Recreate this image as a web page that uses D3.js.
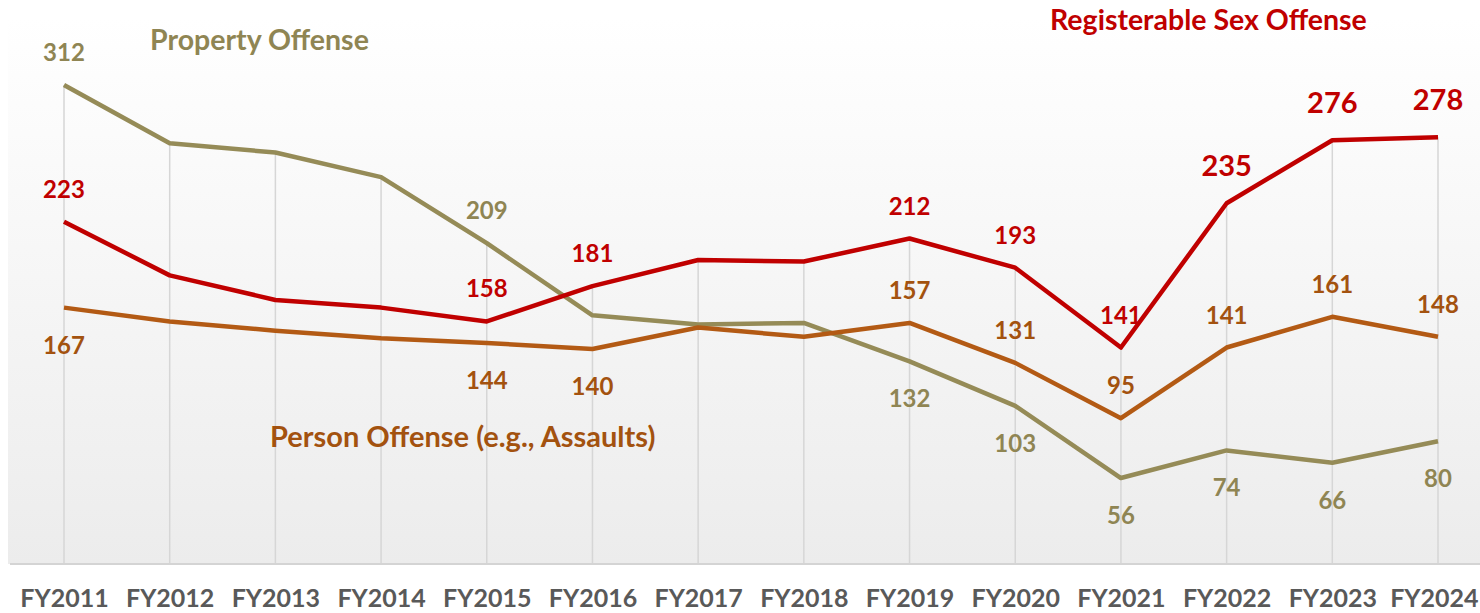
<!DOCTYPE html>
<html>
<head>
<meta charset="utf-8">
<script src="https://cdn.jsdelivr.net/npm/d3@7"></script>
<style>
  html, body { margin: 0; padding: 0; background: #fff; }
  svg { display: block; font-family: Lato, "Open Sans", sans-serif; font-weight: bold; }
</style>
</head>
<body>
<div id="chart"></div>
<script>
// fiscal years on the x axis
const years = ['FY2011', 'FY2012', 'FY2013', 'FY2014', 'FY2015', 'FY2016', 'FY2017',
               'FY2018', 'FY2019', 'FY2020', 'FY2021', 'FY2022', 'FY2023', 'FY2024'];

// series values (unlabelled points)
const propertyVals = [312, 274, 268, 252, 209, 162, 156, 157, 132, 103, 56, 74, 66, 80];
const sexVals      = [223, 188, 172, 167, 158, 181, 198, 197, 212, 193, 141, 235, 276, 278];
const personVals   = [167, 158, 152, 147, 144, 140, 154, 148, 157, 131, 95, 141, 161, 148];

// which points get a value label, and where (a = above, A = above & big, b = below)
const propertyLabels = ['a', '', '', '', 'a', '', '', '', 'b', 'b', 'b', 'b', 'b', 'b'];
const sexLabels      = ['a', '', '', '', 'a', 'a', '', '', 'a', 'a', 'a', 'A', 'A', 'A'];
const personLabels   = ['b', '', '', '', 'b', 'b', '', '', 'a', 'a', 'a', 'a', 'a', 'a'];

const W = 1480, H = 613;

const series = [
  { name: 'Property Offense', values: propertyVals, labels: propertyLabels, color: '#958b57', text: '#8f8553' },
  { name: 'Person Offense (e.g., Assaults)', values: personVals, labels: personLabels, color: '#b35a14', text: '#a3520f' },
  { name: 'Registerable Sex Offense', values: sexVals, labels: sexLabels, color: '#c00000', text: '#c00000' }
];

const svg = d3.select('#chart').append('svg')
  .attr('width', W)
  .attr('height', H);

const x = d3.scalePoint().domain(years).range([64, 1438]);
const y = d3.scaleLinear().domain([0, 312]).range([564, 85]);

// plot area background, white fading to light grey
const defs = svg.append('defs');
const grad = defs.append('linearGradient')
  .attr('id', 'bg').attr('x1', 0).attr('y1', 0).attr('x2', 0).attr('y2', 1);
grad.append('stop').attr('offset', '0%').attr('stop-color', '#ffffff');
grad.append('stop').attr('offset', '100%').attr('stop-color', '#ececec');

svg.append('rect')
  .attr('x', 8).attr('y', 18)
  .attr('width', W - 8).attr('height', 564 - 18)
  .attr('fill', 'url(#bg)');

// drop lines from the highest point of each year down to the axis
svg.append('g')
  .selectAll('line')
  .data(years)
  .enter().append('line')
  .attr('x1', d => x(d))
  .attr('x2', d => x(d))
  .attr('y1', (d, i) => y(d3.max(series, s => s.values[i])))
  .attr('y2', y(0))
  .attr('stroke', '#d6d6d6')
  .attr('stroke-width', 1.5);

// bottom axis
const xAxis = svg.append('g')
  .attr('transform', `translate(0,${y(0)})`)
  .call(d3.axisBottom(x).tickSize(0).tickPadding(25));
xAxis.select('.domain').remove();
xAxis.append('line')
  .attr('x1', 10).attr('x2', W)
  .attr('stroke', '#d4d4d4').attr('stroke-width', 2);
xAxis.selectAll('.tick text')
  .attr('font-family', 'Lato, sans-serif')
  .attr('font-weight', 'bold')
  .attr('font-size', 25)
  .attr('fill', '#595959');
// last label sits against the right edge so it isn't clipped
xAxis.selectAll('.tick text')
  .filter(d => d === years[years.length - 1])
  .attr('text-anchor', 'end')
  .attr('x', W - 2 - x(years[years.length - 1]));

// series lines
const line = d3.line()
  .x((d, i) => x(years[i]))
  .y(d => y(d));

svg.append('g')
  .selectAll('path')
  .data(series)
  .enter().append('path')
  .attr('d', d => line(d.values))
  .attr('fill', 'none')
  .attr('stroke', d => d.color)
  .attr('stroke-width', 4.5)
  .attr('stroke-linejoin', 'round');

// value labels
series.forEach(s => {
  s.values.forEach((v, i) => {
    const pos = s.labels[i];
    if (!pos) return;
    const big = pos === 'A';
    const dy = pos === 'b' ? 46 : (big ? -27 : -24);
    svg.append('text')
      .attr('x', x(years[i]))
      .attr('y', y(v) + dy)
      .attr('text-anchor', 'middle')
      .attr('font-size', big ? 29 : 24)
      .attr('fill', s.text)
      .text(v);
  });
});

// series names
svg.append('text')
  .attr('x', 150).attr('y', 50)
  .attr('font-size', 28.5)
  .attr('fill', series[0].text)
  .text(series[0].name);

svg.append('text')
  .attr('x', 270).attr('y', 447)
  .attr('font-size', 29)
  .attr('fill', series[1].text)
  .text(series[1].name);

svg.append('text')
  .attr('x', 1050).attr('y', 30)
  .attr('font-size', 28.5)
  .attr('fill', series[2].text)
  .text(series[2].name);
</script>
</body>
</html>
